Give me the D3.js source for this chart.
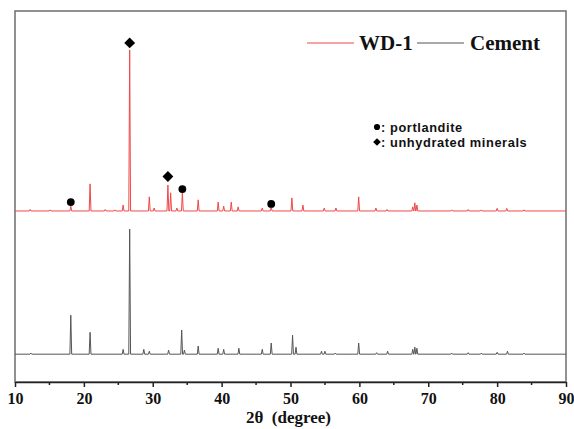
<!DOCTYPE html>
<html>
<head>
<meta charset="utf-8">
<script src="https://cdn.jsdelivr.net/npm/d3@7"></script>
<style>
  body { margin: 0; background: white; }
</style>
</head>
<body>
<script>
// peak lists: 2theta and height above each pattern's own baseline
var wdPos = [12.2, 15.1, 18.1, 20.9, 23.1, 24.5, 25.7, 26.65, 29.5, 30.2, 32.2, 32.6, 33.5, 34.3, 36.6, 39.5, 40.3, 41.4, 42.4, 45.9, 47.2, 50.2, 51.8, 54.9, 56.6, 59.9, 62.4, 64.0, 67.75, 68.05, 68.35, 73.4, 75.8, 77.7, 80.0, 81.4, 83.9];
var wdInt = [4, 3, 13, 73, 4, 3, 16, 434, 38, 8, 70, 49, 8, 49, 30, 24, 13, 24, 11, 8, 11, 35, 16, 8, 8, 38, 8, 4, 11, 22, 16, 3, 4, 3, 7, 7, 3];

var cemPos = [12.3, 18.1, 20.9, 25.7, 26.65, 28.7, 29.5, 32.3, 34.2, 34.6, 36.6, 39.5, 40.3, 42.5, 45.9, 47.2, 50.3, 50.8, 54.5, 55.0, 56.5, 59.9, 62.5, 64.1, 67.75, 68.05, 68.35, 73.4, 75.8, 77.7, 80.0, 81.5, 83.9];
var cemInt = [3, 105, 59, 13, 337, 13, 8, 11, 65, 11, 22, 16, 13, 16, 13, 30, 51, 19, 8, 8, 3, 30, 4, 8, 13, 19, 16, 3, 4, 3, 5, 8, 3];

// vertical offsets of the two stacked patterns (a.u.)
var wdOffset = 461;
var cemOffset = 75;

// phase markers on the WD-1 pattern
var markPos = [26.65, 32.2, 18.1, 34.3, 47.2];
var markType = ["diamond", "diamond", "circle", "circle", "circle"];
var markInt = [453, 93, 24, 59, 19];

var xTicks = [10, 20, 30, 40, 50, 60, 70, 80, 90];
var xMinor = [15, 25, 35, 45, 55, 65, 75, 85];
var seriesNames = ["WD-1", "Cement"];
var seriesColors = ["#f04848", "#555555"];
var phaseNames = [": portlandite", ": unhydrated minerals"];

var width = 574, height = 429;
var margin = {top: 11, right: 8, bottom: 47, left: 15};

var svg = d3.select("body").append("svg")
  .attr("width", width)
  .attr("height", height)
  .style("background", "white");

var xScale = d3.scaleLinear()
  .domain([10, 90])
  .range([margin.left, width - margin.right]);

var yScale = d3.scaleLinear()
  .domain([0, 1000])
  .range([height - margin.bottom, margin.top]);

// turn a peak list into line points (narrow peaks on a flat baseline)
function peakLine(pos, ints, offset) {
  var w = 0.13;
  var pts = [[10, offset]];
  pos.forEach(function(p, i) {
    pts.push([p - w, offset]);
    pts.push([p, offset + ints[i]]);
    pts.push([p + w, offset]);
  });
  pts.push([90, offset]);
  return pts;
}

var line = d3.line()
  .x(function(d) { return xScale(d[0]); })
  .y(function(d) { return yScale(d[1]); });

// frame
svg.append("rect")
  .attr("x", xScale(10))
  .attr("y", yScale(1000))
  .attr("width", xScale(90) - xScale(10))
  .attr("height", yScale(0) - yScale(1000))
  .attr("fill", "none")
  .attr("stroke", "#6e6e6e")
  .attr("stroke-width", 1.5);

// patterns
svg.append("path")
  .datum(peakLine(cemPos, cemInt, cemOffset))
  .attr("d", line)
  .attr("fill", "none")
  .attr("stroke", seriesColors[1])
  .attr("stroke-width", 1);

svg.append("path")
  .datum(peakLine(wdPos, wdInt, wdOffset))
  .attr("d", line)
  .attr("fill", "none")
  .attr("stroke", seriesColors[0])
  .attr("stroke-width", 1);

// markers
var diamond = d3.symbol().type(d3.symbolDiamond2).size(75);
var circle = d3.symbol().type(d3.symbolCircle).size(48);
svg.selectAll(".mark")
  .data(markPos)
  .enter()
  .append("path")
  .attr("class", "mark")
  .attr("transform", function(d, i) {
    return "translate(" + xScale(d) + "," + yScale(wdOffset + markInt[i]) + ")";
  })
  .attr("d", function(d, i) { return markType[i] == "diamond" ? diamond() : circle(); })
  .attr("fill", "black");

// x axis
var xAxis = svg.append("g")
  .attr("transform", "translate(0," + yScale(0) + ")")
  .call(d3.axisBottom(xScale).tickValues(xTicks).tickSize(5).tickPadding(6).tickSizeOuter(0));
xAxis.select(".domain").attr("stroke", "#222").attr("stroke-width", 1.5);
xAxis.selectAll(".tick line").attr("stroke", "#222").attr("stroke-width", 1.5);
xAxis.selectAll("text")
  .style("font-family", "'Liberation Serif', 'Times New Roman', serif")
  .style("font-weight", "bold")
  .style("font-size", "16px")
  .attr("fill", "#111");

svg.append("g")
  .selectAll("line")
  .data(xMinor)
  .enter()
  .append("line")
  .attr("x1", function(d) { return xScale(d); })
  .attr("x2", function(d) { return xScale(d); })
  .attr("y1", yScale(0))
  .attr("y2", yScale(0) + 3)
  .attr("stroke", "#222")
  .attr("stroke-width", 1.5);

svg.append("text")
  .attr("x", (xScale(10) + xScale(90)) / 2 - 2)
  .attr("y", 423)
  .attr("text-anchor", "middle")
  .style("font-family", "'Liberation Serif', 'Times New Roman', serif")
  .style("font-weight", "bold")
  .style("font-size", "17px")
  .attr("fill", "#111")
  .text("2θ\u2002(degree)");

// legend
var legX = [307, 417];
var textX = [359, 470];
seriesNames.forEach(function(name, i) {
  svg.append("line")
    .attr("x1", legX[i]).attr("x2", legX[i] + 47)
    .attr("y1", 43).attr("y2", 43)
    .attr("stroke", seriesColors[i])
    .attr("stroke-width", 1.2);
  svg.append("text")
    .attr("x", textX[i])
    .attr("y", 50)
    .style("font-family", "'Liberation Serif', 'Times New Roman', serif")
    .style("font-weight", "bold")
    .style("font-size", "21px")
    .attr("fill", "#111")
    .text(name);
});

// phase key
svg.append("path")
  .attr("transform", "translate(377,127)")
  .attr("d", d3.symbol().type(d3.symbolCircle).size(30)())
  .attr("fill", "black");
svg.append("path")
  .attr("transform", "translate(377,142)")
  .attr("d", d3.symbol().type(d3.symbolDiamond2).size(38)())
  .attr("fill", "black");
svg.append("text")
  .attr("x", 381)
  .attr("y", 131.5)
  .style("font-family", "'Liberation Sans', Arial, sans-serif")
  .style("font-weight", "bold")
  .style("font-size", "12.8px")
  .style("letter-spacing", "0.6px")
  .attr("fill", "#111")
  .selectAll("tspan")
  .data(phaseNames)
  .enter()
  .append("tspan")
  .attr("x", 381)
  .attr("dy", function(d, i) { return i == 0 ? 0 : 15; })
  .text(function(d) { return d; });
</script>
</body>
</html>
